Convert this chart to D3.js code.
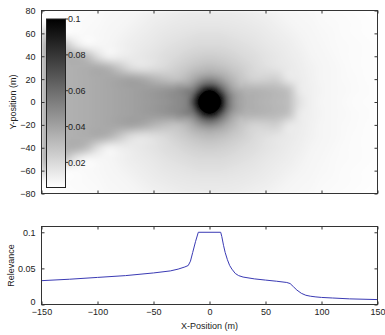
<!DOCTYPE html>
<html><head><meta charset="utf-8">
<script src="https://cdn.jsdelivr.net/npm/d3@7"></script>
<style>
body{margin:0;background:#fff}
svg{display:block}
text{font-family:"Liberation Sans",Arial,sans-serif;font-size:9px;fill:#222}
</style>
</head><body>
<svg id="c" width="385" height="335"></svg>
<script>
// ---------- data ----------
// coarse relevance grid (10 m spacing) over the whole map
const gridX = [-150,-140,-130,-120,-110,-100,-90,-80,-70,-60,-50,-40,-30,-20,-10,0,10,20,30,40,50,60,70,80,90,100,110,120,130,140,150];
const gridY = [80,70,60,50,40,30,20,10,0,-10,-20,-30,-40,-50,-60,-70,-80];
const heatRows = [
 [.0062,.0065,.0068,.0071,.0075,.0079,.0084,.0089,.0094,.0100,.0109,.0118,.0126,.0132,.0135,.0136,.0135,.0132,.0126,.0118,.0109,.0100,.0094,.0089,.0084,.0079,.0075,.0071,.0068,.0065,.0062],
 [.0063,.0066,.0070,.0074,.0078,.0083,.0088,.0094,.0102,.0113,.0125,.0135,.0141,.0146,.0149,.0150,.0149,.0146,.0141,.0135,.0125,.0113,.0102,.0094,.0088,.0083,.0078,.0074,.0070,.0066,.0063],
 [.0251,.0136,.0071,.0075,.0081,.0086,.0092,.0100,.0113,.0127,.0139,.0147,.0156,.0164,.0170,.0172,.0170,.0164,.0156,.0147,.0139,.0127,.0113,.0100,.0092,.0086,.0081,.0075,.0071,.0068,.0065],
 [.0330,.0338,.0278,.0147,.0083,.0090,.0097,.0109,.0125,.0139,.0149,.0162,.0176,.0187,.0195,.0198,.0195,.0187,.0176,.0162,.0149,.0139,.0125,.0109,.0097,.0090,.0083,.0078,.0073,.0070,.0066],
 [.0330,.0338,.0346,.0354,.0307,.0178,.0102,.0118,.0135,.0147,.0162,.0181,.0198,.0217,.0234,.0240,.0234,.0217,.0198,.0181,.0162,.0147,.0135,.0118,.0102,.0093,.0086,.0080,.0075,.0071,.0067],
 [.0330,.0338,.0346,.0354,.0362,.0375,.0344,.0261,.0181,.0155,.0176,.0198,.0228,.0259,.0294,.0310,.0294,.0259,.0228,.0198,.0176,.0155,.0141,.0126,.0109,.0096,.0088,.0082,.0076,.0072,.0068],
 [.0330,.0338,.0346,.0354,.0362,.0375,.0385,.0395,.0408,.0383,.0337,.0300,.0281,.0328,.0426,.0480,.0426,.0328,.0259,.0217,.0225,.0235,.0146,.0132,.0113,.0098,.0090,.0083,.0077,.0072,.0068],
 [.0330,.0338,.0346,.0354,.0362,.0375,.0385,.0395,.0408,.0422,.0437,.0455,.0480,.0514,.0710,.1000,.0710,.0442,.0350,.0349,.0338,.0322,.0295,.0140,.0116,.0100,.0091,.0084,.0078,.0073,.0069],
 [.0330,.0338,.0346,.0354,.0362,.0375,.0385,.0395,.0408,.0422,.0437,.0455,.0480,.0530,.1000,.1000,.1000,.0480,.0380,.0355,.0338,.0322,.0302,.0175,.0115,.0098,.0090,.0083,.0076,.0072,.0068],
 [.0330,.0338,.0346,.0354,.0362,.0375,.0385,.0395,.0408,.0422,.0437,.0455,.0480,.0514,.0710,.1000,.0710,.0442,.0350,.0349,.0338,.0322,.0295,.0140,.0116,.0100,.0091,.0084,.0078,.0073,.0069],
 [.0330,.0338,.0346,.0354,.0362,.0375,.0385,.0395,.0408,.0383,.0337,.0300,.0281,.0328,.0426,.0480,.0426,.0328,.0259,.0217,.0225,.0235,.0146,.0132,.0113,.0098,.0090,.0083,.0077,.0072,.0068],
 [.0330,.0338,.0346,.0354,.0362,.0375,.0344,.0261,.0181,.0155,.0176,.0198,.0228,.0259,.0294,.0310,.0294,.0259,.0228,.0198,.0176,.0155,.0141,.0126,.0109,.0096,.0088,.0082,.0076,.0072,.0068],
 [.0330,.0338,.0346,.0354,.0307,.0178,.0102,.0118,.0135,.0147,.0162,.0181,.0198,.0217,.0234,.0240,.0234,.0217,.0198,.0181,.0162,.0147,.0135,.0118,.0102,.0093,.0086,.0080,.0075,.0071,.0067],
 [.0330,.0338,.0278,.0147,.0083,.0090,.0097,.0109,.0125,.0139,.0149,.0162,.0176,.0187,.0195,.0198,.0195,.0187,.0176,.0162,.0149,.0139,.0125,.0109,.0097,.0090,.0083,.0078,.0073,.0070,.0066],
 [.0251,.0136,.0071,.0075,.0081,.0086,.0092,.0100,.0113,.0127,.0139,.0147,.0156,.0164,.0170,.0172,.0170,.0164,.0156,.0147,.0139,.0127,.0113,.0100,.0092,.0086,.0081,.0075,.0071,.0068,.0065],
 [.0063,.0066,.0070,.0074,.0078,.0083,.0088,.0094,.0102,.0113,.0125,.0135,.0141,.0146,.0149,.0150,.0149,.0146,.0141,.0135,.0125,.0113,.0102,.0094,.0088,.0083,.0078,.0074,.0070,.0066,.0063],
 [.0062,.0065,.0068,.0071,.0075,.0079,.0084,.0089,.0094,.0100,.0109,.0118,.0126,.0132,.0135,.0136,.0135,.0132,.0126,.0118,.0109,.0100,.0094,.0089,.0084,.0079,.0075,.0071,.0068,.0065,.0062]
];
// finer relevance grid (5 m spacing) around the transmitter
const fineX = [-30,-25,-20,-15,-10,-5,0,5,10,15,20,25,30];
const fineY = [30,25,20,15,10,5,0,-5,-10,-15,-20,-25,-30];
const fineRows = [
 [.0228,.0245,.0259,.0278,.0294,.0305,.0310,.0305,.0294,.0278,.0259,.0245,.0228],
 [.0250,.0265,.0290,.0320,.0345,.0360,.0370,.0360,.0345,.0320,.0290,.0265,.0245],
 [.0281,.0300,.0330,.0370,.0426,.0470,.0490,.0470,.0426,.0370,.0330,.0290,.0259],
 [.0400,.0401,.0402,.0450,.0540,.0630,.0670,.0630,.0540,.0450,.0370,.0320,.0278],
 [.0480,.0497,.0530,.0550,.0710,.0920,.1000,.0920,.0710,.0540,.0430,.0378,.0363],
 [.0480,.0497,.0530,.0640,.0920,.1000,.1000,.1000,.0920,.0630,.0490,.0410,.0380],
 [.0480,.0497,.0530,.0720,.1000,.1000,.1000,.1000,.1000,.0670,.0490,.0410,.0380],
 [.0480,.0497,.0530,.0640,.0920,.1000,.1000,.1000,.0920,.0630,.0490,.0410,.0380],
 [.0480,.0497,.0530,.0550,.0710,.0920,.1000,.0920,.0710,.0540,.0430,.0378,.0363],
 [.0400,.0401,.0402,.0450,.0540,.0630,.0670,.0630,.0540,.0450,.0370,.0320,.0278],
 [.0281,.0300,.0330,.0370,.0426,.0470,.0490,.0470,.0426,.0370,.0330,.0290,.0259],
 [.0250,.0265,.0290,.0320,.0345,.0360,.0370,.0360,.0345,.0320,.0290,.0265,.0245],
 [.0228,.0245,.0259,.0278,.0294,.0305,.0310,.0305,.0294,.0278,.0259,.0245,.0228]
];
const coreRadius = 10;           // saturated region (relevance = 0.1)
const colorDomain = [0.006, 0.1];
const colorbarTicks = [0.02, 0.04, 0.06, 0.08, 0.1];
const colorbarLabels = ["0.02","0.04","0.06","0.08","0.1"];

// relevance along y = 0
const profileX = [-150,-125,-100,-75,-50,-35,-28,-22,-19,-17,-15,-12.5,-10,10,11,12.5,14,16,18,20,23,26,30,40,50,60,69,72,75,78,82,86,90,95,100,110,125,150];
const profileY = [.033,.035,.0375,.040,.0437,.0465,.049,.052,.054,.060,.072,.087,.100,.100,.094,.082,.072,.062,.054,.049,.043,.040,.038,.0355,.0338,.0322,.0305,.029,.0245,.020,.0155,.0128,.0115,.0105,.0098,.0090,.0078,.0068];

const xTicks = [-150,-100,-50,0,50,100,150];
const yTicksTop = [-80,-60,-40,-20,0,20,40,60,80];
const yTicksBottom = [0,0.05,0.1];
const yTicksBottomLabels = ["0","0.05","0.1"];

// ---------- layout ----------
const L = 41.5, R = 377.5;
const T1 = 10.5, B1 = 193.5;
const T2 = 226.5, B2 = 304.5;

const svg = d3.select("#c");
const x = d3.scaleLinear().domain([-150,150]).range([L,R]);
const yTop = d3.scaleLinear().domain([-80,80]).range([B1,T1]);
const yBot = d3.scaleLinear().domain([0,0.108]).range([B2,T2]);
const gray = d3.scaleLinear().domain(colorDomain).range([255,0]).clamp(true);
const col = v => { const g = Math.round(gray(v)); return `rgb(${g},${g},${g})`; };

const defs = svg.append("defs");
const sm = defs.append("filter").attr("id", "sm")
  .attr("x", 0).attr("y", 0).attr("width", 1).attr("height", 1);
sm.append("feGaussianBlur").attr("stdDeviation", 1.6).attr("edgeMode", "duplicate");
defs.append("clipPath").attr("id", "plotclip").append("rect")
  .attr("x", L).attr("y", T1).attr("width", R-L).attr("height", B1-T1);

// ---------- heatmap (grid samples, smoothly interpolated by the renderer) ----------
function gridImage(xs, ys, rows) {
  const nx = xs.length, ny = ys.length;
  const small = document.createElement("canvas");
  small.width = nx; small.height = ny;
  const sctx = small.getContext("2d");
  const img = sctx.createImageData(nx, ny);
  rows.forEach((row, j) => row.forEach((v, i) => {
    const g = Math.round(gray(v)); const k = (j*nx + i)*4;
    img.data[k]=g; img.data[k+1]=g; img.data[k+2]=g; img.data[k+3]=255;
  }));
  sctx.putImageData(img, 0, 0);
  const x0 = x(xs[0]), x1 = x(xs[nx-1]), y0 = yTop(ys[0]), y1 = yTop(ys[ny-1]);
  const W = Math.round((x1-x0)*3), H = Math.round((y1-y0)*3);
  const big = document.createElement("canvas");
  big.width = W; big.height = H;
  const bctx = big.getContext("2d");
  bctx.imageSmoothingEnabled = true;
  bctx.imageSmoothingQuality = "high";
  bctx.drawImage(small, 0.5, 0.5, nx-1, ny-1, 0, 0, W, H);
  return {href: big.toDataURL(), x: x0, y: y0, w: x1-x0, h: y1-y0};
}
const heatG = svg.append("g").attr("clip-path", "url(#plotclip)")
  .append("g").attr("filter", "url(#sm)");
[gridImage(gridX, gridY, heatRows), gridImage(fineX, fineY, fineRows)].forEach(im => {
  heatG.append("image").attr("href", im.href)
    .attr("x", im.x).attr("y", im.y).attr("width", im.w).attr("height", im.h)
    .attr("preserveAspectRatio", "none");
});

// saturated core
svg.append("ellipse")
  .attr("cx", x(0)).attr("cy", yTop(0))
  .attr("rx", x(coreRadius) - x(0)).attr("ry", yTop(0) - yTop(coreRadius))
  .attr("fill", col(0.1));

// ---------- axes helper ----------
function frame(t, b) {
  svg.append("rect").attr("x", L).attr("y", t).attr("width", R-L).attr("height", b-t)
    .attr("fill", "none").attr("stroke", "#333").attr("stroke-width", 1);
}
function styleAxis(g) {
  g.select(".domain").remove();
  g.selectAll(".tick line").attr("stroke", "#333");
  g.selectAll(".tick text").attr("fill", "#222").style("font-size", "9px")
    .style("font-family", '"Liberation Sans",Arial,sans-serif');
}

// top plot axes
svg.append("g").attr("transform", `translate(${L},0)`)
  .call(d3.axisLeft(yTop).tickValues(yTicksTop).tickSizeInner(-3).tickSizeOuter(0).tickPadding(6))
  .call(styleAxis);
svg.append("g").attr("transform", `translate(${R},0)`)
  .call(d3.axisRight(yTop).tickValues(yTicksTop).tickSizeInner(-3).tickSizeOuter(0).tickFormat(""))
  .call(styleAxis);
svg.append("g").attr("transform", `translate(0,${B1})`)
  .call(d3.axisBottom(x).tickValues(xTicks).tickSizeInner(-3).tickSizeOuter(0).tickFormat(""))
  .call(styleAxis);
svg.append("g").attr("transform", `translate(0,${T1})`)
  .call(d3.axisTop(x).tickValues(xTicks).tickSizeInner(-3).tickSizeOuter(0).tickFormat(""))
  .call(styleAxis);
frame(T1, B1);

// colorbar
const cbL = 46.5, cbR = 65.5, cbT = 19, cbB = 187.5;
const cb = d3.scaleLinear().domain(colorDomain).range([cbB, cbT]);
const grad = defs.append("linearGradient").attr("id", "cbg")
  .attr("x1", 0).attr("y1", 1).attr("x2", 0).attr("y2", 0);
d3.range(0, 1.0001, 0.1).forEach(t => {
  const v = colorDomain[0] + t*(colorDomain[1]-colorDomain[0]);
  grad.append("stop").attr("offset", t).attr("stop-color", col(v));
});
svg.append("rect").attr("x", cbL).attr("y", cbT).attr("width", cbR-cbL).attr("height", cbB-cbT)
  .attr("fill", "url(#cbg)").attr("stroke", "#222").attr("stroke-width", 1);
const cbg = svg.append("g");
colorbarTicks.forEach((v, i) => {
  cbg.append("line").attr("x1", cbR).attr("x2", cbR+2.5).attr("y1", cb(v)).attr("y2", cb(v)).attr("stroke", "#333");
  cbg.append("text").attr("x", cbR+2.5).attr("y", cb(v)).attr("dy", "0.35em").text(colorbarLabels[i]);
});

// bottom plot axes
const botLeft = svg.append("g").attr("transform", `translate(${L},0)`)
  .call(d3.axisLeft(yBot).tickValues(yTicksBottom).tickSizeInner(-3).tickSizeOuter(0).tickPadding(6)
    .tickFormat((d,i) => yTicksBottomLabels[i]))
  .call(styleAxis);
botLeft.selectAll(".tick text").filter(d => d === 0).attr("dy", "-0.05em");
svg.append("g").attr("transform", `translate(${R},0)`)
  .call(d3.axisRight(yBot).tickValues(yTicksBottom).tickSizeInner(-3).tickSizeOuter(0).tickFormat(""))
  .call(styleAxis);
svg.append("g").attr("transform", `translate(0,${B2})`)
  .call(d3.axisBottom(x).tickValues(xTicks).tickSizeInner(-3).tickSizeOuter(0).tickPadding(4))
  .call(styleAxis);
svg.append("g").attr("transform", `translate(0,${T2})`)
  .call(d3.axisTop(x).tickValues(xTicks).tickSizeInner(-3).tickSizeOuter(0).tickFormat(""))
  .call(styleAxis);

// relevance line
const line = d3.line().x((d,i) => x(profileX[i])).y(d => yBot(d));
svg.append("path").datum(profileY).attr("d", line)
  .attr("fill", "none").attr("stroke", "#3a3ab4").attr("stroke-width", 1);
frame(T2, B2);

// labels
svg.append("text").attr("x", (L+R)/2).attr("y", 328.5).attr("text-anchor", "middle").text("X-Position (m)");
svg.append("text").attr("transform", `translate(15.5,${(T1+B1)/2}) rotate(-90)`).attr("text-anchor", "middle").text("Y-position (m)");
svg.append("text").attr("transform", `translate(13.5,${(T2+B2)/2}) rotate(-90)`).attr("text-anchor", "middle").text("Relevance");
</script>
</body></html>
